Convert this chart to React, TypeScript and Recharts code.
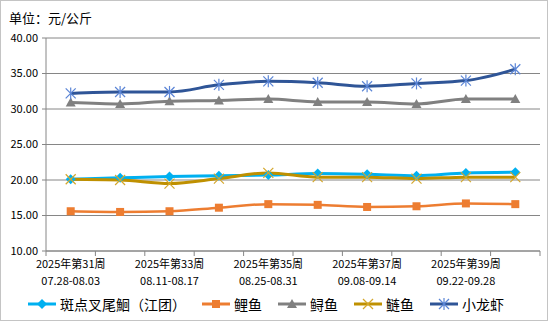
import { CartesianGrid, Legend, Line, LineChart, XAxis, YAxis } from "recharts";

const WEEKS = [
  "2025年第31周", "2025年第32周", "2025年第33周", "2025年第34周", "2025年第35周",
  "2025年第36周", "2025年第37周", "2025年第38周", "2025年第39周", "2025年第40周",
];
const RANGES = [
  "07.28-08.03", "08.04-08.10", "08.11-08.17", "08.18-08.24", "08.25-08.31",
  "09.01-09.07", "09.08-09.14", "09.15-09.21", "09.22-09.28", "09.29-10.05",
];
const BANDIAN = [20.1, 20.3, 20.5, 20.6, 20.7, 20.9, 20.8, 20.6, 21.0, 21.1];
const LIYU = [15.6, 15.5, 15.6, 16.1, 16.6, 16.5, 16.2, 16.3, 16.7, 16.6];
const XUNYU = [30.9, 30.7, 31.1, 31.2, 31.4, 31.0, 31.0, 30.7, 31.4, 31.4];
const LIANYU = [20.1, 20.0, 19.5, 20.2, 21.0, 20.4, 20.4, 20.2, 20.4, 20.4];
const XIAOLONGXIA = [32.2, 32.4, 32.4, 33.4, 33.9, 33.7, 33.2, 33.6, 34.0, 35.6];
const Y_TICKS = [10, 15, 20, 25, 30, 35, 40];

const W = 550;
const H = 322;
const MARGIN = { top: 38, right: 10, bottom: 5, left: 0 };
const Y_W = 46;
const PLOT_W = W - MARGIN.left - MARGIN.right - Y_W;
const AXIS = "#868686";
const FONT = '"Noto Sans CJK SC", "Noto Sans", sans-serif';

const SERIES = [
  { key: "bd", name: "斑点叉尾鮰（江团）", data: BANDIAN, color: "#00b0f0", mark: "#00b0f0", kind: "diamond" },
  { key: "ly", name: "鲤鱼", data: LIYU, color: "#ed7d31", mark: "#ed7d31", kind: "square" },
  { key: "xy", name: "鲟鱼", data: XUNYU, color: "#808080", mark: "#808080", kind: "triangle" },
  { key: "lian", name: "鲢鱼", data: LIANYU, color: "#bf9000", mark: "#d4a72c", kind: "x" },
  { key: "xlx", name: "小龙虾", data: XIAOLONGXIA, color: "#2f5597", mark: "#5b85d6", kind: "star" },
];

const rows = WEEKS.map((week, i) => {
  const r: Record<string, string | number> = { week, range: RANGES[i] };
  SERIES.forEach((s) => (r[s.key] = s.data[i]));
  return r;
});

function Marker({ kind, cx, cy, color }: { kind: string; cx: number; cy: number; color: string }) {
  if (kind === "diamond")
    return <polygon points={`${cx},${cy - 5} ${cx + 5},${cy} ${cx},${cy + 5} ${cx - 5},${cy}`} fill={color} />;
  if (kind === "square") return <rect x={cx - 4} y={cy - 4} width={8} height={8} fill={color} />;
  if (kind === "triangle")
    return <polygon points={`${cx},${cy - 5} ${cx + 5},${cy + 4} ${cx - 5},${cy + 4}`} fill={color} />;
  if (kind === "x")
    return (
      <g stroke={color} strokeWidth={1.2}>
        <line x1={cx - 5} y1={cy - 5} x2={cx + 5} y2={cy + 5} />
        <line x1={cx - 5} y1={cy + 5} x2={cx + 5} y2={cy - 5} />
      </g>
    );
  return (
    <g stroke={color} strokeWidth={1.2}>
      <line x1={cx - 5} y1={cy - 5} x2={cx + 5} y2={cy + 5} />
      <line x1={cx - 5} y1={cy + 5} x2={cx + 5} y2={cy - 5} />
      <line x1={cx} y1={cy - 6} x2={cx} y2={cy + 6} />
    </g>
  );
}

function WeekTick(props: any) {
  const { x, y, index } = props;
  const band = PLOT_W / WEEKS.length;
  const left = x - band / 2;
  return (
    <g>
      <line x1={left} y1={y} x2={left} y2={y + 5} stroke={AXIS} />
      {index === WEEKS.length - 1 && (
        <line x1={left + band} y1={y} x2={left + band} y2={y + 5} stroke={AXIS} />
      )}
      {index % 2 === 0 && (
        <text x={x} y={y} textAnchor="middle" fontSize={11} fill="#000" fontFamily={FONT}>
          <tspan x={x} dy={16.5}>{WEEKS[index]}</tspan>
          <tspan x={x} dy={17}>{RANGES[index]}</tspan>
        </text>
      )}
    </g>
  );
}

function LegendBox() {
  return (
    <div
      style={{
        display: "flex",
        justifyContent: "center",
        alignItems: "center",
        height: 26,
        paddingLeft: 8,
        fontFamily: FONT,
        fontSize: 14,
        color: "#000",
      }}
    >
      {SERIES.map((s) => (
        <div key={s.key} style={{ display: "flex", alignItems: "center", marginRight: 16 }}>
          <svg width={28} height={14} style={{ marginRight: 4 }}>
            <line x1={0} y1={7} x2={28} y2={7} stroke={s.color} strokeWidth={3} />
            <Marker kind={s.kind} cx={14} cy={7} color={s.mark} />
          </svg>
          <span>{s.name}</span>
        </div>
      ))}
    </div>
  );
}

export default function App() {
  return (
    <div style={{ position: "absolute", left: 0, top: 0, width: W, height: H, background: "#fff" }}>
      <div
        style={{
          position: "absolute",
          left: 0,
          top: 0,
          width: 548,
          height: 321,
          border: "1px solid #c4c4c4",
          boxSizing: "border-box",
          pointerEvents: "none",
        }}
      />
      <div style={{ position: "absolute", left: 9, top: 8, fontSize: 13, fontFamily: FONT, color: "#000" }}>
        单位：元/公斤
      </div>
      <LineChart width={W} height={H} data={rows} margin={MARGIN}>
        <CartesianGrid vertical={false} stroke={AXIS} />
        <XAxis
          dataKey="week"
          scale="band"
          interval={0}
          height={40}
          tickLine={false}
          tickSize={0}
          tickMargin={0}
          axisLine={{ stroke: AXIS }}
          tick={<WeekTick />}
        />
        <YAxis
          domain={[10, 40]}
          ticks={Y_TICKS}
          width={Y_W}
          tickSize={4}
          tickMargin={4}
          tickLine={{ stroke: AXIS }}
          axisLine={{ stroke: AXIS }}
          tickFormatter={(v: number) => v.toFixed(2)}
          tick={{ fill: "#000", fontSize: 11, fontFamily: FONT }}
        />
        <Legend verticalAlign="bottom" content={<LegendBox />} />
        {SERIES.map((s) => (
          <Line
            key={s.key}
            type="monotone"
            dataKey={s.key}
            name={s.name}
            stroke={s.color}
            strokeWidth={s.kind === "square" ? 2.5 : 3}
            isAnimationActive={false}
            dot={(p: any) => <Marker key={p.index} kind={s.kind} cx={p.cx} cy={p.cy} color={s.mark} />}
            activeDot={false}
          />
        ))}
      </LineChart>
    </div>
  );
}
